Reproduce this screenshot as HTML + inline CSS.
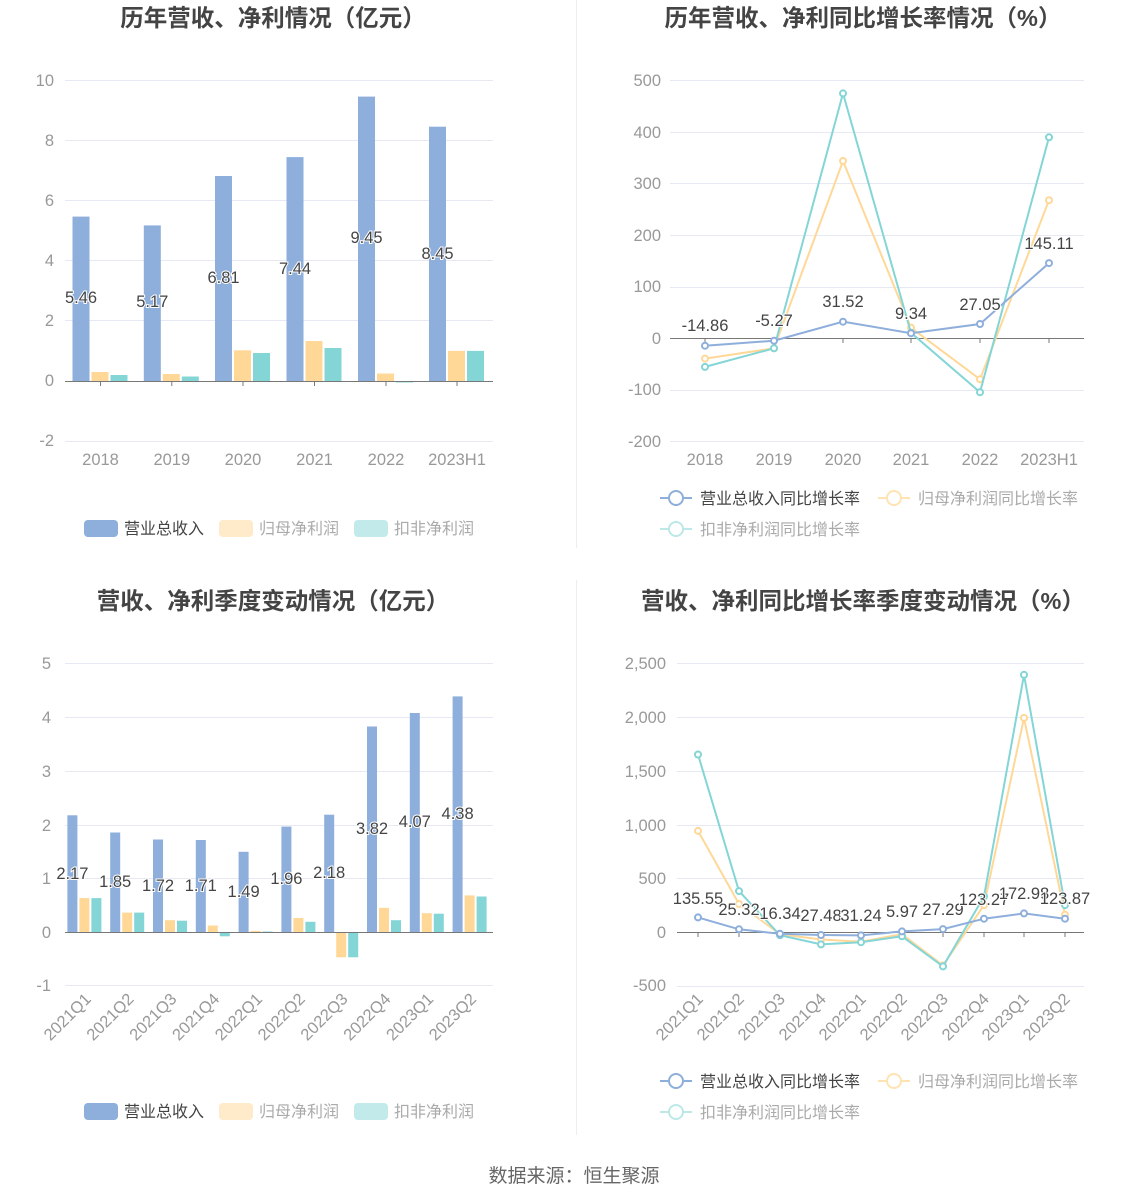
<!DOCTYPE html>
<html><head><meta charset="utf-8"><style>
html,body{margin:0;padding:0;background:#fff}
svg{display:block;font-family:"Liberation Sans","Noto Sans CJK SC",sans-serif}
.t{font-size:23.5px;font-weight:bold;fill:#444;text-anchor:middle}
.ax{font-size:16.5px;fill:#999}
.lb{font-size:16.5px;fill:#444;text-anchor:middle;paint-order:stroke;stroke:#fff;stroke-width:2px}
.lg{font-size:16px;fill:#aaa}
.lg1{font-size:16px;fill:#444}
.g{stroke:#e6e9f3;stroke-width:1}
</style></head><body>
<svg width="1148" height="1202" viewBox="0 0 1148 1202">
<line x1="576.5" y1="0" x2="576.5" y2="548" stroke="#eee"/>
<line x1="576.5" y1="580" x2="576.5" y2="1135" stroke="#eee"/>
<text class="t" x="273" y="26">历年营收、净利情况（亿元）</text>
<text class="t" x="863" y="26">历年营收、净利同比增长率情况（%）</text>
<text class="t" x="273" y="609">营收、净利季度变动情况（亿元）</text>
<text class="t" x="863" y="609">营收、净利同比增长率季度变动情况（%）</text>

<!-- Chart 1 -->
<g>
<line class="g" x1="65" x2="493" y1="80.5" y2="80.5"/><line class="g" x1="65" x2="493" y1="140.5" y2="140.5"/>
<line class="g" x1="65" x2="493" y1="200.5" y2="200.5"/><line class="g" x1="65" x2="493" y1="260.5" y2="260.5"/>
<line class="g" x1="65" x2="493" y1="320.5" y2="320.5"/><line class="g" x1="65" x2="493" y1="441.5" y2="441.5"/>
<g class="ax" text-anchor="end">
<text x="54" y="86">10</text><text x="54" y="146">8</text><text x="54" y="206">6</text><text x="54" y="266">4</text><text x="54" y="326">2</text><text x="54" y="386">0</text><text x="54" y="446">-2</text></g>
<g fill="#8eaedb">
<rect x="72.5" y="216.6" width="17" height="164.4"/><rect x="143.8" y="225.4" width="17" height="155.6"/>
<rect x="215" y="176" width="17" height="205"/><rect x="286.5" y="157.1" width="17" height="223.9"/>
<rect x="358" y="96.6" width="17" height="284.4"/><rect x="429" y="126.7" width="17" height="254.3"/></g>
<g fill="#ffd898">
<rect x="91.5" y="372" width="17" height="9"/><rect x="162.8" y="374" width="17" height="7"/>
<rect x="234" y="350.3" width="17" height="30.7"/><rect x="305.5" y="341" width="17" height="40"/>
<rect x="377" y="373.5" width="17" height="7.5"/><rect x="448" y="350.9" width="17" height="30.1"/></g>
<g fill="#84d5d6">
<rect x="110.5" y="375" width="17" height="6"/><rect x="181.8" y="376.5" width="17" height="4.5"/>
<rect x="253" y="353" width="17" height="28"/><rect x="324.5" y="348" width="17" height="33"/>
<rect x="396" y="381" width="17" height="1.5"/><rect x="467" y="350.9" width="17" height="30.1"/></g>
<line x1="65" x2="493" y1="381.5" y2="381.5" stroke="#777"/>
<g stroke="#777"><line x1="100.5" x2="100.5" y1="381" y2="386"/><line x1="171.8" x2="171.8" y1="381" y2="386"/><line x1="243" x2="243" y1="381" y2="386"/><line x1="314.5" x2="314.5" y1="381" y2="386"/><line x1="386" x2="386" y1="381" y2="386"/><line x1="457" x2="457" y1="381" y2="386"/></g>
<g class="ax" text-anchor="middle"><text x="100.5" y="465">2018</text><text x="171.8" y="465">2019</text><text x="243" y="465">2020</text><text x="314.5" y="465">2021</text><text x="386" y="465">2022</text><text x="457" y="465">2023H1</text></g>
<g class="lb"><text x="81" y="303">5.46</text><text x="152.3" y="307">5.17</text><text x="223.5" y="283">6.81</text><text x="295" y="274">7.44</text><text x="366.5" y="243">9.45</text><text x="437.5" y="259">8.45</text></g>
<rect x="84" y="520" width="34" height="17" rx="4" fill="#8eaedb"/><text class="lg1" x="124" y="534">营业总收入</text>
<rect x="219" y="520" width="34" height="17" rx="4" fill="#ffebc9"/><text class="lg" x="259" y="534">归母净利润</text>
<rect x="354" y="520" width="34" height="17" rx="4" fill="#c2eaea"/><text class="lg" x="394" y="534">扣非净利润</text>
</g>

<!-- Chart 2 -->
<g>
<line class="g" x1="670" x2="1084" y1="80.5" y2="80.5"/><line class="g" x1="670" x2="1084" y1="132.5" y2="132.5"/>
<line class="g" x1="670" x2="1084" y1="183.5" y2="183.5"/><line class="g" x1="670" x2="1084" y1="235.5" y2="235.5"/>
<line class="g" x1="670" x2="1084" y1="287.5" y2="287.5"/><line class="g" x1="670" x2="1084" y1="390.5" y2="390.5"/>
<line class="g" x1="670" x2="1084" y1="441.5" y2="441.5"/>
<g class="ax" text-anchor="end"><text x="661" y="86">500</text><text x="661" y="138">400</text><text x="661" y="189">300</text><text x="661" y="241">200</text><text x="661" y="292">100</text><text x="661" y="344">0</text><text x="661" y="395">-100</text><text x="661" y="447">-200</text></g>
<line x1="670" x2="1084" y1="338.5" y2="338.5" stroke="#777"/>
<g stroke="#777"><line x1="705" x2="705" y1="338" y2="343"/><line x1="774" x2="774" y1="338" y2="343"/><line x1="843" x2="843" y1="338" y2="343"/><line x1="911" x2="911" y1="338" y2="343"/><line x1="980" x2="980" y1="338" y2="343"/><line x1="1049" x2="1049" y1="338" y2="343"/></g>
<g class="ax" text-anchor="middle"><text x="705" y="465">2018</text><text x="774" y="465">2019</text><text x="843" y="465">2020</text><text x="911" y="465">2021</text><text x="980" y="465">2022</text><text x="1049" y="465">2023H1</text></g>
<g fill="#fff" stroke-width="2">
<polyline fill="none" stroke="#ffd898" stroke-width="2" points="705,358.6 774,348.3 843,161 911,327.7 980,379.3 1049,200.2"/>
<g stroke="#ffd898"><circle cx="705" cy="358.6" r="3"/><circle cx="774" cy="348.3" r="3"/><circle cx="843" cy="161" r="3"/><circle cx="911" cy="327.7" r="3"/><circle cx="980" cy="379.3" r="3"/><circle cx="1049" cy="200.2" r="3"/></g>
<polyline fill="none" stroke="#84d5d6" stroke-width="2" points="705,366.9 774,348.3 843,93.4 911,332.8 980,392.2 1049,137.3"/>
<g stroke="#84d5d6"><circle cx="705" cy="366.9" r="3"/><circle cx="774" cy="348.3" r="3"/><circle cx="843" cy="93.4" r="3"/><circle cx="911" cy="332.8" r="3"/><circle cx="980" cy="392.2" r="3"/><circle cx="1049" cy="137.3" r="3"/></g>
<polyline fill="none" stroke="#8eaedb" stroke-width="2" points="705,345.7 774,340.7 843,321.7 911,333.2 980,324 1049,263.1"/>
<g stroke="#8eaedb"><circle cx="705" cy="345.7" r="3"/><circle cx="774" cy="340.7" r="3"/><circle cx="843" cy="321.7" r="3"/><circle cx="911" cy="333.2" r="3"/><circle cx="980" cy="324" r="3"/><circle cx="1049" cy="263.1" r="3"/></g>
</g>
<g class="lb"><text x="705" y="331">-14.86</text><text x="774" y="326">-5.27</text><text x="843" y="307">31.52</text><text x="911" y="319">9.34</text><text x="980" y="310">27.05</text><text x="1049" y="249">145.11</text></g>
<g fill="#fff" stroke-width="2">
<line x1="660" x2="692" y1="498" y2="498" stroke="#8eaedb"/><circle cx="676" cy="498" r="7" stroke="#8eaedb"/>
<line x1="878" x2="910" y1="498" y2="498" stroke="#ffe3b3"/><circle cx="894" cy="498" r="7" stroke="#ffe3b3"/>
<line x1="660" x2="692" y1="529" y2="529" stroke="#bde8e8"/><circle cx="676" cy="529" r="7" stroke="#bde8e8"/></g>
<text class="lg1" x="700" y="504">营业总收入同比增长率</text><text class="lg" x="918" y="504">归母净利润同比增长率</text><text class="lg" x="700" y="535">扣非净利润同比增长率</text>
</g>

<!-- Chart 3 -->
<g>
<line class="g" x1="65" x2="493" y1="663.5" y2="663.5"/><line class="g" x1="65" x2="493" y1="717.5" y2="717.5"/>
<line class="g" x1="65" x2="493" y1="771.5" y2="771.5"/><line class="g" x1="65" x2="493" y1="825.5" y2="825.5"/>
<line class="g" x1="65" x2="493" y1="878.5" y2="878.5"/><line class="g" x1="65" x2="493" y1="985.5" y2="985.5"/>
<g class="ax" text-anchor="end"><text x="51" y="669">5</text><text x="51" y="723">4</text><text x="51" y="777">3</text><text x="51" y="831">2</text><text x="51" y="884">1</text><text x="51" y="938">0</text><text x="51" y="991">-1</text></g>
<g fill="#8eaedb">
<rect x="67.4" y="815.3" width="10" height="116.7"/><rect x="110.2" y="832.5" width="10" height="99.5"/><rect x="153" y="839.5" width="10" height="92.5"/><rect x="195.8" y="840" width="10" height="92"/><rect x="238.6" y="851.8" width="10" height="80.2"/><rect x="281.4" y="826.6" width="10" height="105.4"/><rect x="324.2" y="814.7" width="10" height="117.3"/><rect x="367" y="726.5" width="10" height="205.5"/><rect x="409.8" y="713" width="10" height="219"/><rect x="452.6" y="696.4" width="10" height="235.6"/></g>
<g fill="#ffd898">
<rect x="79.4" y="898.1" width="10" height="33.9"/><rect x="122.2" y="912.6" width="10" height="19.4"/><rect x="165" y="920.2" width="10" height="11.8"/><rect x="207.8" y="925.5" width="10" height="6.5"/><rect x="250.6" y="930.9" width="10" height="1.1"/><rect x="293.4" y="918" width="10" height="14"/><rect x="336.2" y="932" width="10" height="25.3"/><rect x="379" y="907.8" width="10" height="24.2"/><rect x="421.8" y="913.2" width="10" height="18.8"/><rect x="464.6" y="895.4" width="10" height="36.6"/></g>
<g fill="#84d5d6">
<rect x="91.4" y="898.1" width="10" height="33.9"/><rect x="134.2" y="912.6" width="10" height="19.4"/><rect x="177" y="920.7" width="10" height="11.3"/><rect x="219.8" y="932" width="10" height="4.3"/><rect x="262.6" y="931.5" width="10" height="0.5"/><rect x="305.4" y="921.8" width="10" height="10.2"/><rect x="348.2" y="932" width="10" height="25.3"/><rect x="391" y="920.2" width="10" height="11.8"/><rect x="433.8" y="913.7" width="10" height="18.3"/><rect x="476.6" y="896.5" width="10" height="35.5"/></g>
<line x1="65" x2="493" y1="932.5" y2="932.5" stroke="#777"/>
<g class="lb"><text x="72.4" y="879">2.17</text><text x="115.2" y="887">1.85</text><text x="158" y="891">1.72</text><text x="200.8" y="891">1.71</text><text x="243.6" y="897">1.49</text><text x="286.4" y="884">1.96</text><text x="329.2" y="878">2.18</text><text x="372" y="834">3.82</text><text x="414.8" y="827">4.07</text><text x="457.6" y="819">4.38</text></g>
<g class="ax" text-anchor="end">
<text transform="translate(92,1000) rotate(-45)">2021Q1</text><text transform="translate(134.8,1000) rotate(-45)">2021Q2</text><text transform="translate(177.6,1000) rotate(-45)">2021Q3</text><text transform="translate(220.4,1000) rotate(-45)">2021Q4</text><text transform="translate(263.2,1000) rotate(-45)">2022Q1</text><text transform="translate(306,1000) rotate(-45)">2022Q2</text><text transform="translate(348.8,1000) rotate(-45)">2022Q3</text><text transform="translate(391.6,1000) rotate(-45)">2022Q4</text><text transform="translate(434.4,1000) rotate(-45)">2023Q1</text><text transform="translate(477.2,1000) rotate(-45)">2023Q2</text></g>
<rect x="84" y="1103" width="34" height="17" rx="4" fill="#8eaedb"/><text class="lg1" x="124" y="1117">营业总收入</text>
<rect x="219" y="1103" width="34" height="17" rx="4" fill="#ffebc9"/><text class="lg" x="259" y="1117">归母净利润</text>
<rect x="354" y="1103" width="34" height="17" rx="4" fill="#c2eaea"/><text class="lg" x="394" y="1117">扣非净利润</text>
</g>

<!-- Chart 4 -->
<g>
<line class="g" x1="677" x2="1084" y1="663.5" y2="663.5"/><line class="g" x1="677" x2="1084" y1="717.5" y2="717.5"/>
<line class="g" x1="677" x2="1084" y1="771.5" y2="771.5"/><line class="g" x1="677" x2="1084" y1="825.5" y2="825.5"/>
<line class="g" x1="677" x2="1084" y1="878.5" y2="878.5"/><line class="g" x1="677" x2="1084" y1="986.5" y2="986.5"/>
<g class="ax" text-anchor="end"><text x="666" y="669">2,500</text><text x="666" y="723">2,000</text><text x="666" y="777">1,500</text><text x="666" y="831">1,000</text><text x="666" y="884">500</text><text x="666" y="938">0</text><text x="666" y="991">-500</text></g>
<line x1="677" x2="1084" y1="932.5" y2="932.5" stroke="#777"/>
<g stroke="#777"><line x1="698" x2="698" y1="932" y2="937"/><line x1="739" x2="739" y1="932" y2="937"/><line x1="780" x2="780" y1="932" y2="937"/><line x1="821" x2="821" y1="932" y2="937"/><line x1="861" x2="861" y1="932" y2="937"/><line x1="902" x2="902" y1="932" y2="937"/><line x1="943" x2="943" y1="932" y2="937"/><line x1="984" x2="984" y1="932" y2="937"/><line x1="1024" x2="1024" y1="932" y2="937"/><line x1="1065" x2="1065" y1="932" y2="937"/></g>
<g fill="#fff" stroke-width="2">
<polyline fill="none" stroke="#ffd898" stroke-width="2" points="698,830.9 739,904 780,934.2 821,939.5 861,941.7 902,934.2 943,965.4 984,905.1 1024,717.9 1065,914.8"/>
<g stroke="#ffd898"><circle cx="698" cy="830.9" r="3"/><circle cx="739" cy="904" r="3"/><circle cx="780" cy="934.2" r="3"/><circle cx="821" cy="939.5" r="3"/><circle cx="861" cy="941.7" r="3"/><circle cx="902" cy="934.2" r="3"/><circle cx="943" cy="965.4" r="3"/><circle cx="984" cy="905.1" r="3"/><circle cx="1024" cy="717.9" r="3"/><circle cx="1065" cy="914.8" r="3"/></g>
<polyline fill="none" stroke="#84d5d6" stroke-width="2" points="698,754.5 739,891.1 780,935.2 821,944.4 861,942.2 902,936.3 943,966.4 984,896.5 1024,674.8 1065,905.1"/>
<g stroke="#84d5d6"><circle cx="698" cy="754.5" r="3"/><circle cx="739" cy="891.1" r="3"/><circle cx="780" cy="935.2" r="3"/><circle cx="821" cy="944.4" r="3"/><circle cx="861" cy="942.2" r="3"/><circle cx="902" cy="936.3" r="3"/><circle cx="943" cy="966.4" r="3"/><circle cx="984" cy="896.5" r="3"/><circle cx="1024" cy="674.8" r="3"/><circle cx="1065" cy="905.1" r="3"/></g>
<polyline fill="none" stroke="#8eaedb" stroke-width="2" points="698,917.4 739,929.3 780,933.8 821,935 861,935.4 902,931.4 943,929.1 984,918.7 1024,913.4 1065,918.7"/>
<g stroke="#8eaedb"><circle cx="698" cy="917.4" r="3"/><circle cx="739" cy="929.3" r="3"/><circle cx="780" cy="933.8" r="3"/><circle cx="821" cy="935" r="3"/><circle cx="861" cy="935.4" r="3"/><circle cx="902" cy="931.4" r="3"/><circle cx="943" cy="929.1" r="3"/><circle cx="984" cy="918.7" r="3"/><circle cx="1024" cy="913.4" r="3"/><circle cx="1065" cy="918.7" r="3"/></g>
</g>
<g class="lb"><text x="698" y="904">135.55</text><text x="739" y="915">25.32</text><text x="780" y="919">16.34</text><text x="821" y="921">27.48</text><text x="861" y="921">31.24</text><text x="902" y="917">5.97</text><text x="943" y="915">27.29</text><text x="984" y="905">123.27</text><text x="1024" y="899">172.98</text><text x="1065" y="904">123.87</text></g>
<g class="ax" text-anchor="end">
<text transform="translate(704,1000) rotate(-45)">2021Q1</text><text transform="translate(745,1000) rotate(-45)">2021Q2</text><text transform="translate(786,1000) rotate(-45)">2021Q3</text><text transform="translate(827,1000) rotate(-45)">2021Q4</text><text transform="translate(867,1000) rotate(-45)">2022Q1</text><text transform="translate(908,1000) rotate(-45)">2022Q2</text><text transform="translate(949,1000) rotate(-45)">2022Q3</text><text transform="translate(990,1000) rotate(-45)">2022Q4</text><text transform="translate(1030,1000) rotate(-45)">2023Q1</text><text transform="translate(1071,1000) rotate(-45)">2023Q2</text></g>
<g fill="#fff" stroke-width="2">
<line x1="660" x2="692" y1="1081" y2="1081" stroke="#8eaedb"/><circle cx="676" cy="1081" r="7" stroke="#8eaedb"/>
<line x1="878" x2="910" y1="1081" y2="1081" stroke="#ffe3b3"/><circle cx="894" cy="1081" r="7" stroke="#ffe3b3"/>
<line x1="660" x2="692" y1="1112" y2="1112" stroke="#bde8e8"/><circle cx="676" cy="1112" r="7" stroke="#bde8e8"/></g>
<text class="lg1" x="700" y="1087">营业总收入同比增长率</text><text class="lg" x="918" y="1087">归母净利润同比增长率</text><text class="lg" x="700" y="1118">扣非净利润同比增长率</text>
</g>

<text x="574" y="1182" text-anchor="middle" style="font-size:19px;fill:#666">数据来源：恒生聚源</text>
</svg>
</body></html>
